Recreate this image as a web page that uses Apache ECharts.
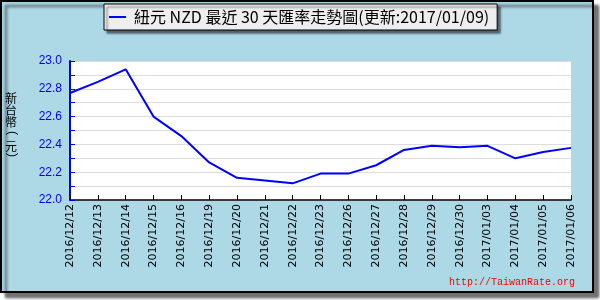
<!DOCTYPE html>
<html><head><meta charset="utf-8">
<script src="https://cdn.jsdelivr.net/npm/echarts@6/dist/echarts.min.js"></script>
<style>html,body{margin:0;padding:0;background:#fff}#c{width:600px;height:300px}</style>
</head><body><div id="c"></div>
<script>
const categories = ['2016/12/12','2016/12/13','2016/12/14','2016/12/15','2016/12/16','2016/12/19','2016/12/20','2016/12/21','2016/12/22','2016/12/23','2016/12/26','2016/12/27','2016/12/28','2016/12/29','2016/12/30','2017/01/03','2017/01/04','2017/01/05','2017/01/06'];
const rates = [22.77, 22.85, 22.94, 22.60, 22.46, 22.27, 22.16, 22.14, 22.12, 22.19, 22.19, 22.25, 22.36, 22.39, 22.38, 22.39, 22.30, 22.345, 22.375];
const seriesName = '紐元 NZD 最近 30 天匯率走勢圖(更新:2017/01/09)';
const yAxisName = ['新','台','幣','(','元',')'];
const watermark = 'http://TaiwanRate.org';

const nameTops = [92, 104, 116, 131, 140, 153];
const nameGraphics = yAxisName.map((ch, i) => {
  const paren = (ch === '(' || ch === ')');
  return {
    type:'text', left: paren ? 6 : 5, top: nameTops[i], silent:true,
    rotation: paren ? -Math.PI/2 : 0,
    style:{text:ch, font: paren ? '12px "Liberation Sans"' : '12px "Noto Sans CJK TC"', fill:'#000'}
  };
});

const chart = echarts.init(document.getElementById('c'), null, {renderer:'canvas'});
chart.setOption({
  animation: false,
  backgroundColor: 'transparent',
  graphic: [
    {type:'rect', z:-10, silent:true, shape:{x:1, y:1, width:592, height:291},
     style:{fill:'#add8e6', stroke:'#000', lineWidth:2, shadowColor:'rgba(0,0,0,0.55)', shadowOffsetX:5, shadowOffsetY:5, shadowBlur:3}},
    ...nameGraphics,
    {type:'text', right:25, top:277, silent:true,
     style:{text: watermark, font:'10px "Liberation Mono"', fill:'#ff0000'}}
  ],
  legend: {
    top: 4, left: 104,
    padding: [5, 8, 5, 5],
    backgroundColor: '#eeeeee', borderColor:'#000', borderWidth:1,
    shadowColor:'rgba(0,0,0,0.55)', shadowOffsetX:3, shadowOffsetY:3, shadowBlur:2,
    icon:'rect', itemWidth:17, itemHeight:2, itemGap:0,
    textStyle:{fontSize:16, color:'#000', fontFamily:'"Noto Sans CJK TC"', padding:[0,0,0,3]},
    data:[seriesName]
  },
  grid: {left:70, right:29, top:61, bottom:100, show:true, backgroundColor:'#fff', borderWidth:0},
  xAxis: {
    type:'category', data:categories, boundaryGap:false,
    axisLine:{lineStyle:{color:'#000', width:1.5}},
    axisTick:{inside:true, length:5, lineStyle:{color:'#000'}, alignWithLabel:true},
    axisLabel:{rotate:90, interval:0, color:'#000', fontSize:11, fontFamily:'"DejaVu Sans"', margin:4},
    splitLine:{show:false}
  },
  yAxis: {
    type:'value', min:22, max:23, interval:0.1,
    axisLine:{show:true, lineStyle:{color:'#0000ff', width:2}},
    axisTick:{show:true, inside:true, length:5, lineStyle:{color:'#0000ff'}},
    axisLabel:{color:'#0000ff', fontSize:12, fontFamily:'"Liberation Sans"', margin:8,
      formatter: v => (Math.round(v*10) % 2 === 0) ? v.toFixed(1) : ''},
    splitLine:{show:true, lineStyle:{color:'#dddddd', width:1}}
  },
  series: [{
    name: seriesName, type:'line', data:rates, symbol:'none',
    lineStyle:{color:'#0000ff', width:2}, itemStyle:{color:'#0000ff'}
  }]
});
</script></body></html>
